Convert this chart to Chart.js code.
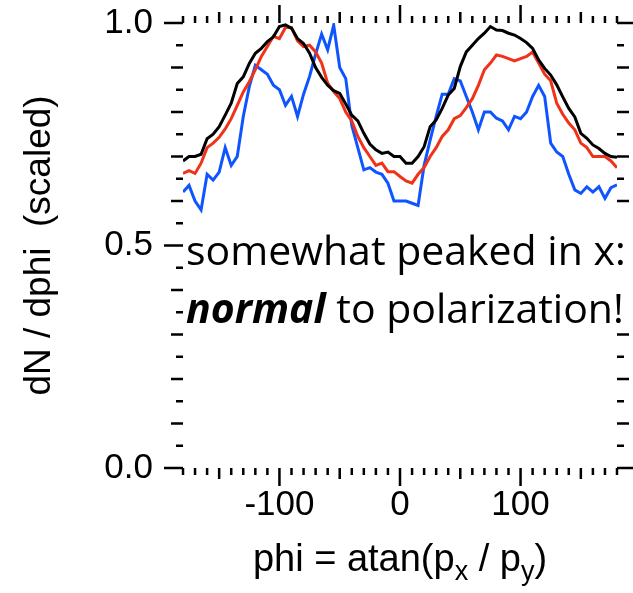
<!DOCTYPE html>
<html>
<head>
<meta charset="utf-8">
<script src="https://cdn.jsdelivr.net/npm/chart.js@4"></script>
<style>
  html, body { margin: 0; padding: 0; background: #fff; }
  #wrap { position: relative; width: 633px; height: 593px; }
  #note {
    position: absolute; left: 183px; top: 218px; width: 450px; height: 115px;
    background: #fff; padding-top: 2px; padding-left: 3px; box-sizing: border-box;
    font-family: "Open Sans", sans-serif; font-size: 41px; line-height: 58px;
    color: #000; white-space: nowrap;
  }
  #note b { font-weight: bold; font-style: italic; }
  #xtitle {
    position: absolute; left: 183px; top: 536px; width: 434px;
    text-align: center; font-family: "Liberation Sans", Arial, sans-serif;
    font-size: 38px; line-height: 44px; color: #000; white-space: nowrap;
  }
  #xtitle span { font-size: 27px; position: relative; top: 9px; }
</style>
</head>
<body>
<div id="wrap">
  <canvas id="chart" width="633" height="593"></canvas>
  <div id="note">somewhat peaked in x:<br><b>normal</b> to polarization!</div>
  <div id="xtitle">phi = atan(p<span>x</span> / p<span>y</span>)</div>
</div>
<script>
// phi bins (degrees)
const phi = [-180, -175, -170, -165, -160, -155, -150, -145, -140, -135, -130, -125, -120, -115, -110, -105, -100, -95, -90,
  -85, -80, -75, -70, -65, -60, -55, -50, -45, -40, -35, -30, -25, -20, -15, -10, -5, 0,
  5, 10, 15, 20, 25, 30, 35, 40, 45, 50, 55, 60, 65, 70, 75, 80, 85, 90,
  95, 100, 105, 110, 115, 120, 125, 130, 135, 140, 145, 150, 155, 160, 165, 170, 175, 180];

const blackVals = [0.69, 0.70, 0.70, 0.705, 0.74, 0.75, 0.767, 0.793, 0.82, 0.864, 0.879, 0.909, 0.932, 0.943, 0.958, 0.969, 0.992, 0.996, 0.988,
  0.965, 0.954, 0.932, 0.90, 0.878, 0.86, 0.848, 0.842, 0.818, 0.793, 0.78, 0.752, 0.728, 0.715, 0.707, 0.71, 0.70, 0.70,
  0.685, 0.685, 0.70, 0.722, 0.767, 0.782, 0.808, 0.838, 0.853, 0.902, 0.935, 0.95, 0.965, 0.977, 0.992, 0.984, 0.983, 0.977,
  0.973, 0.965, 0.956, 0.943, 0.917, 0.898, 0.883, 0.861, 0.834, 0.808, 0.789, 0.752, 0.741, 0.726, 0.718, 0.707, 0.70, 0.698];

const redVals = [0.662, 0.668, 0.662, 0.685, 0.72, 0.73, 0.743, 0.762, 0.785, 0.815, 0.845, 0.868, 0.895, 0.925, 0.947, 0.97, 0.965, 0.99, 0.99,
  0.96, 0.947, 0.95, 0.935, 0.91, 0.865, 0.846, 0.83, 0.80, 0.78, 0.745, 0.72, 0.70, 0.68, 0.685, 0.666, 0.666, 0.655,
  0.645, 0.64, 0.66, 0.675, 0.70, 0.72, 0.745, 0.76, 0.785, 0.792, 0.81, 0.83, 0.86, 0.895, 0.91, 0.928, 0.925, 0.92,
  0.915, 0.92, 0.925, 0.935, 0.91, 0.885, 0.87, 0.82, 0.795, 0.775, 0.76, 0.73, 0.72, 0.70, 0.70, 0.70, 0.69, 0.675];

const blueVals = [0.62, 0.635, 0.60, 0.58, 0.66, 0.647, 0.665, 0.72, 0.68, 0.70, 0.79, 0.857, 0.905, 0.895, 0.885, 0.86, 0.85, 0.815, 0.835,
  0.79, 0.84, 0.88, 0.93, 0.975, 0.94, 0.995, 0.90, 0.875, 0.77, 0.72, 0.67, 0.675, 0.665, 0.66, 0.64, 0.60, 0.60,
  0.60, 0.595, 0.59, 0.68, 0.737, 0.79, 0.84, 0.84, 0.875, 0.87, 0.835, 0.80, 0.76, 0.80, 0.80, 0.786, 0.78, 0.76,
  0.79, 0.785, 0.80, 0.835, 0.86, 0.835, 0.73, 0.71, 0.70, 0.66, 0.625, 0.617, 0.632, 0.62, 0.632, 0.606, 0.63, 0.636];

const xTickLabels = [-100, 0, 100];
const yTickLabels = [0, 0.5, 1.0];

const axisFont = { family: "'Liberation Sans', Arial, sans-serif", size: 35 };

function series(vals) {
  return phi.map((p, i) => ({ x: p, y: vals[i] }));
}

function makeLine(label, vals, color) {
  return {
    label: label,
    data: series(vals),
    borderColor: color,
    backgroundColor: color,
    borderWidth: 3,
    pointRadius: 0,
    tension: 0,
    fill: false
  };
}

// IDL style tick marks on all four sides, pointing outward
const tickMarks = {
  id: "tickMarks",
  afterDraw(chart) {
    const ctx = chart.ctx;
    const xs = chart.scales.x, ys = chart.scales.y;
    const a = chart.chartArea;
    ctx.save();
    ctx.strokeStyle = "#000";
    ctx.lineWidth = 2.5;
    ctx.beginPath();
    for (let v = -180; v <= 180; v += 10) {
      const len = v % 100 === 0 ? 18 : (v % 50 === 0 ? 11 : 7);
      const px = xs.getPixelForValue(v);
      ctx.moveTo(px, a.bottom); ctx.lineTo(px, a.bottom + len);
      ctx.moveTo(px, a.top); ctx.lineTo(px, a.top - len);
    }
    for (let i = 0; i <= 20; i++) {
      const len = i % 10 === 0 ? 19 : (i % 2 === 0 ? 12 : 7);
      const py = ys.getPixelForValue(i * 0.05);
      ctx.moveTo(a.left, py); ctx.lineTo(a.left - len, py);
      ctx.moveTo(a.right, py); ctx.lineTo(a.right + len, py);
    }
    ctx.stroke();
    ctx.restore();
  }
};

new Chart(document.getElementById("chart"), {
  type: "line",
  data: {
    datasets: [
      makeLine("black", blackVals, "#000000"),
      makeLine("red", redVals, "rgb(240,50,25)"),
      makeLine("blue", blueVals, "rgb(15,85,255)")
    ]
  },
  options: {
    responsive: false,
    animation: false,
    layout: { padding: { top: 23, right: 16, left: 0, bottom: 0 } },
    plugins: { legend: { display: false }, tooltip: { enabled: false } },
    scales: {
      x: {
        type: "linear",
        min: -180, max: 180,
        grid: { display: false, drawTicks: false },
        border: { display: false },
        afterBuildTicks: s => { s.ticks = xTickLabels.map(v => ({ value: v })); },
        afterFit: s => { s.height = 125; s.paddingLeft = 0; s.paddingRight = 0; },
        ticks: { color: "#000", font: axisFont, padding: 16, maxRotation: 0, autoSkip: false,
                 callback: v => String(v) }
      },
      y: {
        min: 0, max: 1,
        grid: { display: false, drawTicks: false },
        border: { display: false },
        afterBuildTicks: s => { s.ticks = yTickLabels.map(v => ({ value: v })); },
        afterFit: s => { s.width = 183; s.paddingTop = 0; s.paddingBottom = 0; },
        ticks: { color: "#000", font: axisFont, padding: 30, callback: v => v.toFixed(1) },
        title: {
          display: true, text: "dN / dphi  (scaled)", color: "#000",
          font: { family: "'Liberation Sans', Arial, sans-serif", size: 37 },
          padding: { top: 18, bottom: 0 }
        }
      }
    }
  },
  plugins: [tickMarks]
});
</script>
</body>
</html>
